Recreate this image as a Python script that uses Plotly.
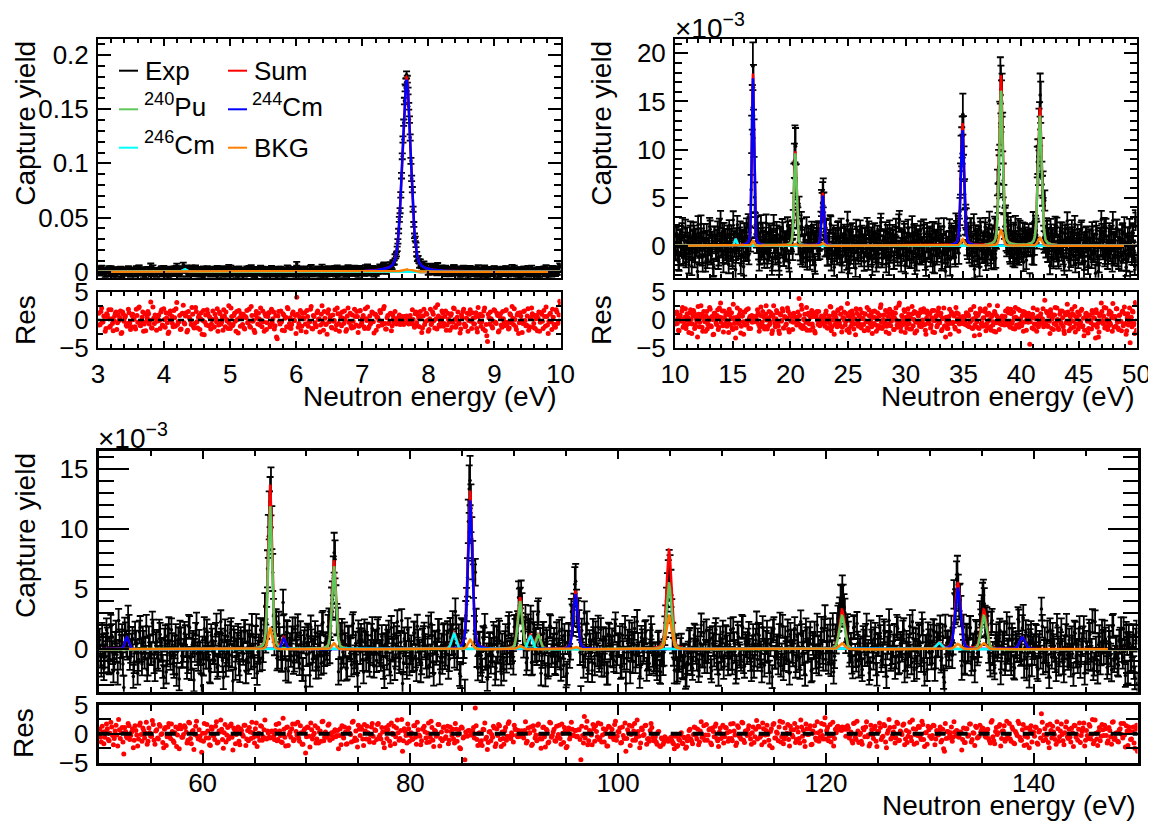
import numpy as np
import plotly.graph_objects as go

# ====================== DATA ======================
# Residuals (exp - fit)/sigma are given in tenths.
# Each panel has two residual lists: *_res for the main bins and *_res_mid for
# the bins lying half-way between them.

# --- Top-left panel: 3-10 eV, capture yield (absolute) ---
tl_xrange = [3.0, 10.0]
tl_peak_E = [4.31, 7.67]
tl_peak_w = [0.06, 0.15]
tl_pu240 = [0.0, 0.0]
tl_cm244 = [0.0, 0.1770]
tl_cm246 = [0.0025, 0.0]
tl_bkg = [0.0, 0.0025]
tl_err_base = 0.0018
tl_err_stat = 4.0e-5
tl_res = [
    12, -8, 21, -3, 6, -15, 9, 18, -11, 2, -19, 7, 14, -5, -1, 16, -22, 10, 4, -9,
    -6, 13, -17, 8, 1, -12, 19, -4, 23, -10, 5, -20, 11, -2, 15, -7, 32, -14, 3, 9,
    -18, 6, -1, 14, -9, 20, -13, 4, -24, 11, 0, -6, 17, -11, 31, -3, 8, -16, 12, -5,
    7, -21, 15, 2, -8, 10, -14, 22, -3, 5, -17, 13, -1, -26, 9, 18, -10, 4, -7, 16,
    -12, 3, 20, -9, 11, -4, -18, 7, 14, -2, 25, -15, 6, -8, 12, -20, 1, 17, -11, 5,
    10, -16, 4, -5, 19, -13, 8, -1, -22, 15, -7, 2, 21, -12, -3, 11, -17, 6, 13, -9,
    -4, 14, -10, -30, 7, -2, 16, -18, 9, 3, -12, 20, -6, -15, 11, -1, 8, 40, -13, 5,
    -19, 12, 2, -7, 17, -11, -3, 24, -16, 6, -9, 13, 1, -21, 10, -5, 15, -8, -25, 18,
    4, -13, 9, -1, -17, 21, -6, 11, -10, 3, 16, -20, 7, -4, 12, -14, -2, 19, -9, 6,
    -11, 17, -5, 8, -15, 2, 23, -12, -7, 14, -3, 10, -18, 5, -1, 13, -9, 20, -6, -16,
    8, -4, 12, -10, 3, 15, -7, -2, 9, -5, 6, -8, 4, 7, -3, 5, -6, 18, -9, 11,
    -5, 8, -12, 6, -14, 19, -3, 10, -20, 2, -8, 14, -1, 22, -16, 7, -11, 4, 13, -6,
    16, -9, 1, -18, 11, -4, 20, -13, 5, -2, -23, 9, 15, -7, -10, 12, -1, 18, -15, 3,
    -7, 13, -21, 6, 10, -3, -16, 21, -8, -38, 4, 14, -11, -2, 17, -6, 8, -19, 11, -13,
    2, -10, 18, -4, -14, 9, 24, -8, 1, -17, 12, -5, 7, -22, 15, -1, -9, 20, -12, 4,
    11, -6, -15, 8, 3, -20, 13, -2, 17, -11, 6, -24, 10, -3, 19, -8, -13, 14, -5, 33,
]
tl_res_mid = [
    -9, 15, -4, 7, -20, 11, 3, -13, 18, -6, -1, 12, -17, 9, 4, -24, 14, -2, 7, -11,
    19, -5, -12, 10, 2, -16, 8, 21, -9, -3, 14, -7, -19, 5, 11, -1, -14, 23, -6, 3,
    -2, 9, -15, 18, -10, 1, 13, -5, -21, 16, 7, -12, 4, 20, -8, -3, -17, 11, 26, -7,
    13, -18, 5, -1, 22, -11, -6, 15, -14, 9, 2, -25, 17, -4, -9, 12, 6, -16, 1, -13,
    10, -3, -20, 14, -7, 5, 18, -12, 1, -15, -6, 21, -10, 8, -2, 15, -23, 4, 11, -8,
    -14, 6, 17, -4, -11, 24, -2, -18, 9, 3, 12, -9, -1, 16, -20, 7, -5, 13, -12, 19,
    2, -16, 8, -33, 15, -7, -3, 11, -19, 5, 22, -13, 4, -8, 14, -1, -24, 10, -6, 17,
    -11, 4, 13, -21, 6, -2, 19, -15, 8, -5, -12, 16, 2, -9, 25, -18, 3, -7, 12, -3,
    7, -14, -2, 18, -9, 11, -20, 5, 14, -6, 1, -17, 21, -4, -10, 9, -13, 6, 15, -22,
    16, -8, 3, -12, 20, -1, -15, 7, -4, 13, -23, 10, 5, -11, 17, -2, -7, 24, -16, 4,
    -6, 11, -19, 9, -4, 2, -6, 5, -8, 3, -2, 6, -5, 4, -7, 8, -3, 1, -13, 14,
    -10, 3, 15, -22, 7, -8, 12, -1, -17, 19, -5, 10, -14, 2, 27, -9, -3, 16, -11, 6,
    -18, 12, -4, 8, -13, 21, 1, -9, 14, -6, -16, 5, 19, -12, 3, -20, 10, -2, 13, -7,
    5, -15, 22, -3, -11, 7, 16, -19, -28, 10, -7, 2, -14, 18, -4, 12, -21, 6, -9, 15,
    -3, 17, -8, -16, 11, -5, 3, 20, -12, 9, -24, 13, -1, -6, 16, -10, 7, -18, 4, 21,
    -13, 8, 2, -19, 14, -4, 10, -15, 6, 23, -9, -2, 12, -17, 5, -11, 18, -6, 9, 28,
]

# --- Top-right panel: 10-50 eV, capture yield in units of 1e-3 ---
tr_xrange = [10.0, 50.0]
tr_peak_E = [15.25, 16.75, 20.42, 22.80, 34.92, 38.25, 41.62]
tr_peak_w = [0.20, 0.22, 0.25, 0.25, 0.33, 0.36, 0.38]
tr_pu240 = [0.0, 0.0, 9.6, 0.0, 0.0, 16.1, 13.5]
tr_cm244 = [0.0, 17.4, 0.0, 5.2, 12.0, 0.0, 0.0]
tr_cm246 = [0.7, 0.0, 0.0, 0.0, 0.0, 0.0, 0.0]
tr_bkg = [0.0, 0.5, 0.2, 0.3, 0.7, 1.6, 0.85]
tr_err_base = 0.9
tr_err_stat = 0.3
tr_res = [
    -7, 14, 3, -19, 9, -2, 22, -11, 5, -15, 11, 0, -6, 18, -24, 7, 13, -9, 2, -30,
    10, -4, 25, -13, 6, -1, -20, 15, -8, 3, 19, -12, 1, -25, 12, -5, 8, -17, 21, 30,
    4, -10, 16, -7, -1, 13, -22, 9, 2, -14, 28, -6, -32, 5, 3, -3, 17, -11, 7, -25,
    14, -2, -9, 20, 3, -15, 8, 3, 6, -3, 1, 18, -8, -13, 23, -4, 6, -16, 10, 0,
    -11, 15, -3, 7, -19, 25, -6, 2, 13, -10, -24, 9, -1, 16, -14, 4, -7, 21, -17, 11,
    -2, 8, -4, 6, 5, -9, 14, 38, -9, 26, -15, 1, 10, -4, -18, 12, -7, 5, 17, -13,
    6, -23, 9, -1, 15, -10, 2, -6, 4, -5, 11, -3, -14, 7, 24, -19, 0, 13, -8, 4,
    -12, 18, -5, 10, -21, 3, 14, -9, -2, 29, -16, 6, -11, 16, 1, -7, -26, 12, -4, 8,
    19, -14, 2, -8, 11, -3, 22, -18, 7, -1, -12, 15, -6, 4, -20, 13, -10, 9, 27, -15,
    1, -5, 17, -11, 6, -24, 10, -2, 14, -17, 3, 21, -9, -4, 30, -13, 8, -1, 18, -22,
    5, -7, 11, -16, 2, 24, -10, 15, -3, -19, 9, -6, 13, -12, 0, 20, -8, -25, 16, -4,
    10, -14, 4, -21, 17, -1, 8, -9, 21, -5, 12, -17, 3, -11, -30, -2, -15, 6, -25, 14,
    -6, 9, -13, 22, -3, 11, -7, 5, -4, 6, 2, -8, 13, -10, 7, -4, 18, -14, 2, -28,
    12, -3, 8, -15, 20, -7, -11, 4, 15, -19, 9, -2, 26, -12, 6, -9, -20, 11, -5, 25,
    3, -6, -6, 7, -5, -9, 16, -8, 20, -3, -13, 11, -2, 14, -16, 5, -11, 19, -7, 2,
    -10, 15, -4, 9, -18, 1, 12, -43, 6, -14, 21, -7, 3, -20, 6, -4, 7, -5, 2, -12,
    35, -8, 13, -11, -2, 18, -15, 7, -6, 22, -9, 1, -17, 10, -4, 16, -12, -24, 9, -3,
    14, -19, 6, -1, 11, -13, 24, -7, 2, -16, 9, -4, 19, -10, -28, 5, 12, -2, -15, 8,
    -5, 17, -9, 3, -32, 13, -6, -21, 10, 30, -1, 7, -14, 21, -3, -11, 16, -8, 4, 29,
    -13, 6, 20, -4, -17, 9, -2, 14, -10, 23, -6, -19, 11, -1, -40, 5, 16, -9, -24, 28,
]
tr_res_mid = [
    11, -6, -18, 8, 2, 16, -13, -4, 20, -9, 5, -22, 13, 1, -7, 17, -15, 9, -2, 24,
    -12, 4, 10, -20, 15, -3, 7, -16, -1, 22, -10, 6, -26, 12, 3, -8, 18, -13, 5, -4,
    16, -21, 2, 9, -11, -5, 19, -8, 13, -17, 4, -1, -14, 21, -6, 10, -23, 7, -3, 14,
    -9, 18, -2, -15, 6, 3, -4, 5, -2, 6, -3, 12, -20, 8, -7, 15, -11, 2, 25, -16,
    4, -8, 13, -24, 9, 1, -12, 17, -5, -19, 11, -2, 20, -14, 6, -9, 3, 16, -21, 7,
    -1, -17, 12, 5, -3, 4, -6, 8, -13, 19, -10, 2, -15, 22, -4, 9, -18, 11, -7, 13,
    -20, 6, 15, -8, 1, -4, 7, -3, 5, -11, 16, -14, 3, -6, 23, -12, 8, -25, 10, -2,
    17, -5, -10, 21, -13, 4, -1, 12, -18, 7, -22, 14, -3, 9, -16, 2, 20, -7, -11, 6,
    -8, 13, 3, -19, 10, -2, -14, 18, -6, 11, -24, 5, 16, -9, 1, -15, 7, 22, -4, -12,
    9, -3, -21, 14, -7, 19, -10, 2, 8, -17, 12, -1, -13, 26, -5, -20, 6, -8, 15, -2,
    -14, 20, -6, 4, -16, 11, 1, -23, 13, -4, 7, -11, 18, -2, -9, 14, -18, 3, 10, -6,
    12, -9, 17, -1, -22, 6, -12, 15, -3, 8, -19, 2, 21, -10, 5, -15, -7, 19, -5, 11,
    -4, 7, -16, 13, 2, -20, -3, 5, -6, 4, -2, 7, -8, 10, -12, 18, -1, -15, 24, -9,
    6, -13, 11, -26, 16, -5, 3, -10, 20, -7, -14, 12, 1, -18, 9, -3, 15, -21, 7, -1,
    -17, 2, -8, 5, -2, 6, -4, -3, 13, -11, 19, -6, -15, 4, 22, -9, 2, -13, 17, -5,
    8, -20, 14, -2, 5, -4, 6, -3, 4, 10, -16, 3, -8, 18, -12, -7, 11, -4, 20, -10,
    -3, 15, -11, 7, -24, 12, 2, -17, 9, -6, 21, -14, -1, 16, -8, 4, -19, 13, -5, 28,
    10, -7, -15, 19, -2, 8, -21, 5, 14, -10, -4, 17, -12, 3, -18, 11, 6, -23, 9, -1,
    -16, 12, 4, -9, 18, -13, -30, 7, -3, 15, -6, 22, -11, 1, -17, 10, -5, 13, -20, 6,
    3, -11, 20, -14, 8, -2, -19, 16, -7, 11, -25, 4, -9, 21, -3, -12, 14, -6, 31, -18,
]

# --- Bottom panel: 50-150 eV, capture yield in units of 1e-3 ---
bt_xrange = [50.0, 150.0]
bt_peak_E = [52.7, 66.5, 67.8, 72.65, 84.2, 85.75, 90.55, 91.55, 92.3, 95.9,
             104.9, 121.55, 130.9, 132.7, 135.2, 138.9]
bt_peak_w = [0.40, 0.45, 0.40, 0.45, 0.50, 0.50, 0.50, 0.50, 0.50, 0.50,
             0.55, 0.60, 0.60, 0.60, 0.60, 0.60]
bt_pu240 = [0.0, 11.9, 0.0, 6.9, 0.0, 0.0, 4.0, 0.0, 1.2, 0.0,
            5.5, 2.8, 0.0, 0.0, 2.8, 0.0]
bt_cm244 = [1.0, 0.0, 0.9, 0.0, 0.0, 12.4, 0.0, 0.0, 0.0, 4.6,
            0.0, 0.0, 0.0, 5.1, 0.0, 1.0]
bt_cm246 = [0.0, 0.0, 0.0, 0.0, 1.3, 0.0, 0.0, 1.1, 0.0, 0.0,
            0.0, 0.0, 0.55, 0.0, 0.0, 0.0]
bt_bkg = [0.0, 1.8, 0.0, 0.5, 0.0, 0.8, 0.3, 0.0, 0.0, 0.2,
          2.8, 0.5, 0.0, 0.45, 0.5, 0.0]
bt_err_base = 0.95
bt_err_stat = 0.25
bt_res = [
    8, -14, 3, -6, 17, -10, 1, 12, -19, 5, -2, 25, -8, 11, -35, 4, -7, 14, -3, 9,
    -11, 6, -21, 15, -1, 10, -7, 20, -13, 2, -4, 16, -18, 7, -9, 13, 0, -24, 11, -5,
    18, -8, 4, -15, 12, -2, -26, 9, -6, 14, 3, -11, 19, -17, 6, -1, 22, -9, -4, -32,
    -13, 1, 16, -7, -20, 8, -3, 13, -16, 5, 24, -10, 2, -14, 11, -5, 17, -28, 7, -1,
    12, -19, 6, -4, 15, -9, -12, 3, 20, -6, 9, -22, 1, 14, -11, 7, -8, 5, -6, 4,
    3, -10, 16, -10, 5, -14, 27, -6, 11, -20, 3, 9, -12, 17, -2, -7, 14, -18, 6, -33,
    12, -4, 19, -9, 1, -16, 10, 3, -13, 22, -6, -1, 15, -11, 2, -5, 7, -3, -26, 9,
    14, -7, 3, -17, 10, -1, 20, -12, 5, -23, 8, 12, -9, 16, -9, 2, -14, 12, -4, 7,
    -10, 18, -2, 11, -16, 4, -8, 15, -20, 1, 13, -5, 24, -11, 6, -30, 9, -3, 17, -13,
    2, -9, 14, -18, 7, -4, -12, 10, 3, -15, 19, -6, 11, -22, 5, -1, 16, -8, -12, 12,
    -5, 13, -11, 4, 8, -16, 8, -2, -24, 12, -7, -45, -3, 6, 4, -2, 11, 45, -10, 1,
    -15, -20, 7, -9, -27, 3, -12, -6, 10, -17, -3, 14, -22, -8, 5, -11, 18, -4, 2, -14,
    9, -3, 6, -4, 5, -7, 21, -13, 1, 12, -18, 6, -2, 15, -9, -25, 11, -5, 8, -16,
    20, -6, 3, -12, 13, -1, -8, 17, -15, 5, -22, 10, -4, 8, -3, 6, -4, 7, -45, -3,
    30, 11, -19, 6, -2, 16, -13, 4, 19, -7, -14, 9, 1, -21, 13, -5, 8, -10, 22, -4,
    3, -16, 12, -8, -30, 7, 15, -1, -11, 18, -6, 4, -24, 10, -3, 14, -18, -8, 6, 11,
    -12, -5, -18, 4, -22, -9, -14, -8, -12, -10, -6, -15, -26, -3, -20, -11, 2, -17, -7, -23,
    -4, 8, -13, -1, 11, -9, -19, 5, -6, 14, -2, -11, 7, -16, 10, -5, 17, -12, 3, -8,
    15, -5, 10, -13, 4, -8, 18, -2, -16, 11, -6, 20, -11, 5, -3, 14, -9, 2, -15, 8,
    -9, 12, -3, 19, -14, 6, -1, -20, 9, 16, -7, 3, -12, 22, -5, -17, 10, 1, -10, 13,
    -2, 7, -15, 11, -8, 24, -4, -13, 17, -1, 9, -19, 5, 14, -11, 2, -6, 18, -9, 28,
    6, -12, 16, -3, -21, 8, 12, 9, 10, 12, 8, -4, 14, -7, 3, -16, 19, -10, 5, -1,
    -13, 10, -5, 21, -2, -17, 7, -8, 13, -22, 4, 11, -6, 16, -14, 1, 25, -9, -3, 12,
    -7, 18, -11, 3, 15, -19, 6, -4, 20, -12, 9, -1, -16, 13, -5, 22, -10, 2, -18, 7,
    11, -3, 14, -9, -1, 5, -14, 8, -30, -8, 4, -2, 12, -6, 3, 6, -5, 2, -28, 10,
    -15, 9, -2, 17, -10, 1, 13, -7, -4, 3, 10, 4, -6, 8, -12, 20, -5, -17, 11, 2,
    16, -8, 5, -13, 22, -1, -9, 12, -16, 4, -3, 18, -11, 7, -20, 10, -6, -24, 14, 1,
    -4, 11, -18, 6, 35, -12, 9, -2, -15, 17, -7, 3, -10, 21, -13, 5, -1, -19, 12, -5,
    8, -14, 2, 15, -6, -11, 19, -3, 10, -21, 6, -8, 13, -1, -17, 24, -9, 4, -12, 16,
    -3, 9, -16, 11, -5, 20, -10, 1, -13, 7, 18, -7, -2, 14, -20, 5, -9, 12, -25, 15,
]
bt_res_mid = [
    -6, 13, -17, 4, 9, -12, 20, -3, -8, 15, -21, 7, 2, -14, 11, -5, 18, -10, 3, -24,
    14, -2, -9, 19, -13, 6, 1, -18, 10, -4, 23, -11, 5, -7, 16, -1, -15, 8, -20, 12,
    -3, 17, -12, 2, -22, 9, 15, -6, -1, 11, -16, 20, -8, 4, -27, 13, -4, 7, -11, 1,
    18, -7, 5, -19, 12, -3, -10, 21, -14, 3, 8, -25, 16, -2, -9, 14, -6, 10, -17, 4,
    -13, 9, -1, 15, -20, 6, 11, -8, 2, -16, 19, -4, -11, 13, -5, 24, -9, 1, -7, 5,
    -4, 6, -12, 18, -3, -15, 8, -21, 12, -1, -6, 17, -10, 4, 20, -13, 2, -18, 9, -5,
    11, -23, 7, -2, 14, -9, -16, 5, 21, -12, 3, -6, 17, -1, -8, 4, -5, 6, -3, -19,
    -4, 12, -18, 9, 1, -14, 22, -7, -11, 15, -3, 8, -20, 5, 13, -10, -2, 18, -15, 6,
    16, -5, -9, 3, -24, 11, 7, -13, 19, -1, -17, 10, 2, -8, 25, -12, 4, -16, 9, -3,
    -10, 14, -6, 20, -2, -19, 8, 13, -7, 1, -14, 22, -11, 6, -4, 16, -21, 3, 11, -8,
    5, -17, 12, -3, -9, 18, -13, 7, -26, 10, -5, 3, -4, 6, -2, 5, -7, 14, -20, 2,
    -12, 8, 19, -6, -15, 4, -1, 13, -22, 9, 16, -10, 3, -18, 11, -4, 21, -8, -2, 15,
    7, -5, -4, 5, -3, 6, -16, 10, 2, -20, 14, -7, -12, 17, -1, -9, 12, -23, 6, -14,
    19, -3, 8, -13, -6, 15, -18, 1, 11, -24, 4, -9, 20, -2, 6, -5, 7, -10, 13, -16,
    -7, 22, -12, 3, -19, 9, 14, -5, -10, 17, -2, -14, 8, -21, 12, 1, -6, 16, -11, 4,
    10, -15, -3, 19, -8, 2, -20, 13, 5, -11, 24, -4, -16, 7, -1, 15, -9, -13, 18, -6,
    -10, -14, 3, -21, -7, -18, -5, -9, -13, -8, -11, -17, -4, -22, -9, -2, -16, -6, -25, -12,
    6, -9, -17, 12, -3, 8, -14, 21, -6, -11, 16, -2, 9, -19, 4, 13, -8, -22, 10, -1,
    -16, 11, 2, -8, 17, -12, 5, -20, 14, -4, -9, 19, -15, 3, 8, -1, -18, 12, -5, 23,
    13, -6, -19, 9, -2, 15, -11, 4, -24, 18, -7, 1, 12, -14, 20, -9, -3, 16, -21, 7,
    -5, 18, -10, 3, -16, 12, 6, -22, 9, -1, 14, -18, 2, -7, 21, -13, 5, -3, 16, -9,
    11, -4, -14, 20, -8, 2, 13, 7, 6, 9, 11, 8, 10, -3, -12, 18, -6, 22, -15, 1,
    -18, 7, 12, -5, -21, 15, -2, 9, -13, 4, 19, -10, -4, 14, -24, 6, 11, -7, 3, -16,
    20, -12, 5, -1, 17, -9, -15, 3, -6, 24, -18, 8, -3, 11, -10, 16, -22, 2, 13, -4,
    -8, 15, -19, 6, -2, 12, -11, -26, 18, 4, -7, 2, -13, 21, -3, 5, -6, 3, -10, -15,
    9, -4, 17, -14, 2, -20, 11, -6, 15, 7, 9, -4, 6, -8, -16, 23, -12, 4, -1, 13,
    -21, 5, 14, -9, -3, 18, -13, 8, -17, 1, 22, -6, -11, 16, -4, -19, 10, 7, -14, 3,
    12, -16, 3, -7, 20, -2, -10, 15, -24, 6, 13, -1, -18, 9, -5, 17, -12, 2, 21, -8,
    -6, 10, -22, 14, -1, 8, -15, 4, 19, -11, -3, 16, -9, 25, -13, 1, -20, 11, -4, 7,
    15, -3, -12, 6, -18, 21, -7, 2, -14, 9, -1, 18, -23, 5, 12, -10, 3, -16, 8, -30,
]

legend_labels = ["Exp", "Sum", "<sup>240</sup>Pu", "<sup>244</sup>Cm", "<sup>246</sup>Cm", "BKG"]

# ====================== STYLE ======================
W, H = 1156, 824
OFF = 8                      # page body margin of the html page
WF, HF = W - OFF, H - OFF    # figure size so that it fits the window
FONT = "Liberation Sans, Arial, Helvetica, sans-serif"
C_EXP, C_SUM, C_PU, C_CM4, C_CM6, C_BKG = "black", "#ff0000", "#5fc85a", "#0000ff", "#00ffff", "#ff8000"
legend_colors = [C_EXP, C_SUM, C_PU, C_CM4, C_CM6, C_BKG]


def px(x):
    return (x - OFF) / WF


def py(y):
    return 1 - (y - OFF) / HF


def line_shape(x, E, w, eta=0.3):
    d = (x - E) / w
    return (1 - eta) * np.exp(-4 * np.log(2) * d ** 2) + eta / (1 + 4 * d ** 2)


def model(x, E_list, w_list, pu, cm4, cm6, bkg):
    comp = {k: np.zeros_like(x) for k in ("pu", "cm4", "cm6", "bkg")}
    for i, E in enumerate(E_list):
        s = line_shape(x, E, w_list[i])
        comp["pu"] += pu[i] * s
        comp["cm4"] += cm4[i] * s
        comp["cm6"] += cm6[i] * s
        comp["bkg"] += bkg[i] * s
    comp["sum"] = comp["pu"] + comp["cm4"] + comp["cm6"] + comp["bkg"]
    return comp


fig = go.Figure()

panels = [
    dict(xr=tl_xrange, E=tl_peak_E, w=tl_peak_w, pu=tl_pu240, cm4=tl_cm244, cm6=tl_cm246, bkg=tl_bkg,
         e0=tl_err_base, ek=tl_err_stat, res=tl_res, mid=tl_res_mid, main=("x", "y"), resax=("x2", "y2")),
    dict(xr=tr_xrange, E=tr_peak_E, w=tr_peak_w, pu=tr_pu240, cm4=tr_cm244, cm6=tr_cm246, bkg=tr_bkg,
         e0=tr_err_base, ek=tr_err_stat, res=tr_res, mid=tr_res_mid, main=("x3", "y3"), resax=("x4", "y4")),
    dict(xr=bt_xrange, E=bt_peak_E, w=bt_peak_w, pu=bt_pu240, cm4=bt_cm244, cm6=bt_cm246, bkg=bt_bkg,
         e0=bt_err_base, ek=bt_err_stat, res=bt_res, mid=bt_res_mid, main=("x5", "y5"), resax=("x6", "y6")),
]

for p in panels:
    x0, x1 = p["xr"]
    n = len(p["res"])
    res = np.empty(2 * n)
    res[0::2] = np.array(p["res"], dtype=float) / 10.0
    res[1::2] = np.array(p["mid"], dtype=float) / 10.0
    # bin centres: main bins at x0+(i+0.5)dx, mid bins at x0+(i+1)dx
    xe = x0 + (np.arange(2 * n) + 1) * (x1 - x0) / (2 * n)
    m_e = model(xe, p["E"], p["w"], p["pu"], p["cm4"], p["cm6"], p["bkg"])["sum"]
    err = np.sqrt(p["e0"] ** 2 + p["ek"] * np.clip(m_e, 0, None))
    yexp = m_e + res * err
    xa, ya = p["main"]
    fig.add_trace(go.Scatter(x=xe, y=yexp, mode="markers", xaxis=xa, yaxis=ya,
                             marker=dict(size=3.5, color=C_EXP),
                             error_y=dict(type="data", array=err, color=C_EXP, thickness=1.8, width=3.5),
                             showlegend=False))
    xf = np.linspace(x0, x1, 4000)
    comp = model(xf, p["E"], p["w"], p["pu"], p["cm4"], p["cm6"], p["bkg"])
    for key, col in (("sum", C_SUM), ("pu", C_PU), ("cm4", C_CM4), ("cm6", C_CM6), ("bkg", C_BKG)):
        fig.add_trace(go.Scatter(x=xf, y=comp[key], mode="lines", xaxis=xa, yaxis=ya,
                                 line=dict(color=col, width=2.5), showlegend=False))
    xr_, yr_ = p["resax"]
    fig.add_trace(go.Scatter(x=xe, y=res, mode="markers", xaxis=xr_, yaxis=yr_,
                             marker=dict(size=5, color=C_SUM), showlegend=False))


def axis(domain, rng, anchor, dtick, tick0, mdtick, tlen, mlen, lw, tw, labels, standoff=None):
    d = dict(domain=domain, range=rng, anchor=anchor, showline=True, linecolor="black", linewidth=lw,
             mirror="allticks", ticks="inside", ticklen=tlen, tickwidth=tw, tickcolor="black",
             dtick=dtick, tick0=tick0, showgrid=False, zeroline=False, showticklabels=labels,
             automargin=False,
             tickfont=dict(size=26, color="black", family=FONT),
             minor=dict(ticks="inside", ticklen=mlen, tickwidth=tw, tickcolor="black",
                        dtick=mdtick, tick0=tick0, showgrid=False))
    if standoff is not None:
        d["ticklabelstandoff"] = standoff
    return d


TLx = [px(98), px(560.5)]
TRx = [px(675), px(1136.5)]
BTx = [px(98.7), px(1137.5)]
TOPmain = [py(277.7), py(39.3)]
TOPres = [py(348.3), py(291.7)]
BTmain = [py(691.7), py(451)]
BTres = [py(762.7), py(705)]

layout = dict(
    template="none",
    width=WF, height=HF, margin=dict(l=0, r=0, t=0, b=0, pad=0, autoexpand=False),
    paper_bgcolor="white", plot_bgcolor="white", showlegend=False,
    font=dict(family=FONT, color="black"),
    xaxis=axis(TLx, tl_xrange, "y", 1, 3, 0.2, 7, 4, 2, 1.5, False),
    yaxis=axis(TOPmain, [-0.0055, 0.2145], "x", 0.05, 0, 0.01, 13, 7, 2, 1.5, True, 2),
    xaxis2=axis(TLx, tl_xrange, "y2", 1, 3, 0.2, 7, 4, 2, 1.5, True, 1),
    yaxis2=axis(TOPres, [-5, 5], "x2", 5, 0, 2.5, 10, 5, 2, 1.5, True, 2),
    xaxis3=axis(TRx, tr_xrange, "y3", 5, 10, 1, 7, 4, 2, 1.5, False),
    yaxis3=axis(TOPmain, [-3.33, 21.46], "x3", 5, 0, 1, 13, 7, 2, 1.5, True, 2),
    xaxis4=axis(TRx, tr_xrange, "y4", 5, 10, 1, 7, 4, 2, 1.5, True, 1),
    yaxis4=axis(TOPres, [-5, 5], "x4", 5, 0, 2.5, 10, 5, 2, 1.5, True, 2),
    xaxis5=axis(BTx, bt_xrange, "y5", 20, 0, 5, 8, 5, 3, 2, False),
    yaxis5=axis(BTmain, [-3.53, 16.5], "x5", 5, 0, 1, 30, 15, 3, 2, True, 2),
    xaxis6=axis(BTx, bt_xrange, "y6", 20, 0, 5, 10, 6, 3, 2, True, -5),
    yaxis6=axis(BTres, [-5, 5], "x6", 5, 0, 2.5, 24, 12, 3, 2, True, 2),
)
fig.update_layout(**layout)

# zero reference lines in residual panels
for xr_, yr_, wdt, dash in (("x2", "y2", 2.5, "6px,4px"), ("x4", "y4", 2.5, "6px,4px"), ("x6", "y6", 4, "11px,11px")):
    fig.add_shape(type="line", xref=f"{xr_} domain", yref=yr_, x0=0, x1=1, y0=0, y1=0,
                  line=dict(color="black", width=wdt, dash=dash))

ann = []


def text(x, y, s, size=28, xanchor="center", yanchor="middle", angle=0):
    ann.append(dict(x=px(x), y=py(y), xref="paper", yref="paper", text=s, showarrow=False,
                    xanchor=xanchor, yanchor=yanchor, textangle=angle,
                    font=dict(size=size, color="black", family=FONT)))


# axis titles
text(26, 39.3, "Capture yield", yanchor="top", angle=-90)
text(25, 320, "Res", angle=-90)
text(602, 39.3, "Capture yield", yanchor="top", angle=-90)
text(601, 320, "Res", angle=-90)
text(25, 451.5, "Capture yield", yanchor="top", angle=-90)
text(23, 733, "Res", angle=-90)
text(559, 396, "Neutron energy (eV)", xanchor="right")
text(1137, 396, "Neutron energy (eV)", xanchor="right")
text(1138, 805, "Neutron energy (eV)", xanchor="right")
# exponent multipliers
text(673, 26, "×10<sup>−3</sup>", size=28, xanchor="left")
text(96, 436, "×10<sup>−3</sup>", size=28, xanchor="left")

# legend (two columns)
leg_line_x = [(119, 138), (228, 247)]
leg_text_x = [143, 251.5]
leg_rows_y = [70.7, 109.3, 147.7]
for i, (lab, col) in enumerate(zip(legend_labels, legend_colors)):
    r, c = divmod(i, 2)
    yy = leg_rows_y[r]
    fig.add_shape(type="line", xref="paper", yref="paper",
                  x0=px(leg_line_x[c][0]), x1=px(leg_line_x[c][1]), y0=py(yy), y1=py(yy),
                  line=dict(color=col, width=2))
    off = 0 if "sup" not in lab else -4
    text(leg_text_x[c] - (1.5 if "sup" in lab else 0), yy + off, lab, size=26, xanchor="left")

fig.update_layout(annotations=ann)
fig.write_html("out.html")
